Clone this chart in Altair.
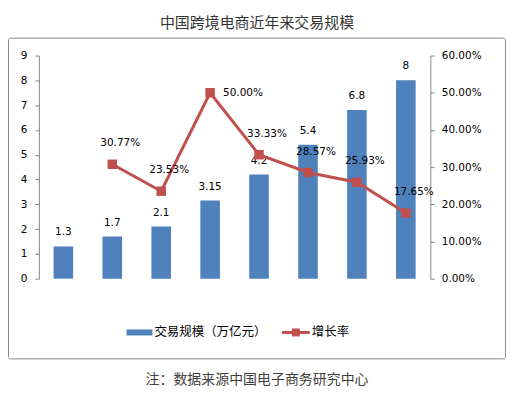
import altair as alt
import pandas as pd

# ---- data ----
years = ["2010", "2011", "2012", "2013", "2014", "2015", "2016E", "2017e"]
volume = [1.3, 1.7, 2.1, 3.15, 4.2, 5.4, 6.8, 8]                       # 交易规模（万亿元）
growth = [None, 0.3077, 0.2353, 0.5000, 0.3333, 0.2857, 0.2593, 0.1765]  # 增长率

left_ticks = [0, 1, 2, 3, 4, 5, 6, 7, 8, 9]
right_ticks = [0, 0.1, 0.2, 0.3, 0.4, 0.5, 0.6]

TITLE = "中国跨境电商近年来交易规模"
FOOTNOTE = "注：数据来源中国电子商务研究中心"
LEGEND_LABELS = ["交易规模（万亿元）", "增长率"]

BLUE = "#4F81BD"
RED = "#C0504D"
AXIS_GRAY = "#868686"
NUM_FONT = "DejaVu Sans"
CJK_FONT = "Noto Sans CJK SC"

df = pd.DataFrame({"year": years, "volume": volume, "growth": growth})
one = pd.DataFrame({"k": [0]})

xscale = alt.Scale(domain=years, paddingInner=0.6, paddingOuter=0.3)
x_enc = alt.X(
    "year:N", sort=years, scale=xscale, title=None,
    axis=alt.Axis(labelAngle=0, tickBand="extent", tickSize=4, labelPadding=6,
                  domainColor=AXIS_GRAY, tickColor=AXIS_GRAY, labelColor="#000",
                  labelFont=NUM_FONT, labelFontSize=10.5, grid=False),
)
x_noaxis = alt.X("year:N", sort=years, scale=xscale, axis=None)

yl_scale = alt.Scale(domain=[0, 9], nice=False, zero=True)
yr_scale = alt.Scale(domain=[0, 0.6], nice=False, zero=True)

base = alt.Chart(df)

bars = base.mark_bar(color=BLUE).encode(
    x=x_enc,
    y=alt.Y("volume:Q", scale=yl_scale, title=None,
            axis=alt.Axis(orient="left", values=left_ticks, tickSize=4, labelPadding=8,
                          domainColor=AXIS_GRAY, tickColor=AXIS_GRAY, labelColor="#000",
                          labelFont=NUM_FONT, labelFontSize=10.5, grid=False)),
)

bar_text = base.mark_text(dy=-14, baseline="middle", font=NUM_FONT, fontSize=10.5,
                          color="#000").encode(
    x=x_noaxis,
    y=alt.Y("volume:Q", scale=yl_scale, axis=None),
    text=alt.Text("volume:Q", format="~g"),
)

gbase = base.transform_filter("datum.growth != null")

line = gbase.mark_line(color=RED, strokeWidth=3).encode(
    x=x_noaxis,
    y=alt.Y("growth:Q", scale=yr_scale, title=None,
            axis=alt.Axis(orient="right", values=right_ticks, format=".2%", tickSize=4,
                          labelPadding=7, domainColor=AXIS_GRAY, tickColor=AXIS_GRAY,
                          labelColor="#000", labelFont=NUM_FONT, labelFontSize=10.5,
                          grid=False)),
)

points = gbase.mark_point(shape="square", filled=True, size=90, color=RED,
                          opacity=1).encode(
    x=x_noaxis,
    y=alt.Y("growth:Q", scale=yr_scale, axis=None),
)

rate_text = gbase.transform_filter("datum.year != '2013'").mark_text(
    dx=8, dy=-21, baseline="middle", font=NUM_FONT, fontSize=10.5, color="#000"
).encode(
    x=x_noaxis,
    y=alt.Y("growth:Q", scale=yr_scale, axis=None),
    text=alt.Text("growth:Q", format=".2%"),
)

peak_text = gbase.transform_filter("datum.year == '2013'").mark_text(
    dx=13, dy=0, align="left", baseline="middle", font=NUM_FONT, fontSize=10.5,
    color="#000"
).encode(
    x=x_noaxis,
    y=alt.Y("growth:Q", scale=yr_scale, axis=None),
    text=alt.Text("growth:Q", format=".2%"),
)

# ---- decorations: frame, title, legend, footnote ----
deco = alt.Chart(one)

frame = deco.mark_rect(fillOpacity=0, stroke="#898989", strokeWidth=1,
                       cornerRadius=2).encode(
    x=alt.value(-30.5), x2=alt.value(468.5), y=alt.value(-17.5), y2=alt.value(304.5)
)

title = deco.mark_text(text=TITLE, font=CJK_FONT, fontSize=15, color="#333",
                       align="center", baseline="middle").encode(
    x=alt.value(219), y=alt.value(-33)
)

leg_bar = deco.mark_rect(color=BLUE).encode(
    x=alt.value(88), x2=alt.value(114), y=alt.value(275), y2=alt.value(281)
)
leg_bar_text = deco.mark_text(text=LEGEND_LABELS[0], font=CJK_FONT, fontSize=12.5,
                              color="#000", align="left", baseline="middle").encode(
    x=alt.value(116), y=alt.value(278)
)
leg_line = deco.mark_rule(color=RED, strokeWidth=3).encode(
    x=alt.value(244), x2=alt.value(272), y=alt.value(278)
)
leg_point = deco.mark_point(shape="square", filled=True, size=64, color=RED,
                            opacity=1).encode(
    x=alt.value(258), y=alt.value(278)
)
leg_line_text = deco.mark_text(text=LEGEND_LABELS[1], font=CJK_FONT, fontSize=12.5,
                               color="#000", align="left", baseline="middle").encode(
    x=alt.value(274), y=alt.value(278)
)

footnote = deco.mark_text(text=FOOTNOTE, font=CJK_FONT, fontSize=14, color="#404040",
                          align="center", baseline="middle").encode(
    x=alt.value(219), y=alt.value(326)
)

chart = alt.layer(
    frame, bars, bar_text, line, points, rate_text, peak_text,
    title, leg_bar, leg_bar_text, leg_line, leg_point, leg_line_text, footnote,
).resolve_scale(y="independent").properties(
    width=393, height=224,
    autosize=alt.AutoSizeParams(type="none"),
    padding={"left": 31, "top": 47, "right": 77, "bottom": 110},
).configure_view(stroke=None)

chart.save("out.html", embed_options={"renderer": "svg", "actions": False})
